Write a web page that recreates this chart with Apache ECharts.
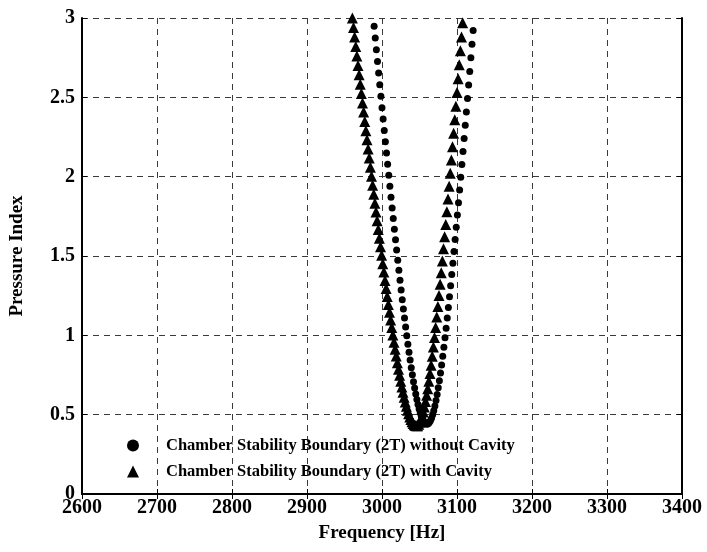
<!DOCTYPE html>
<html>
<head>
<meta charset="utf-8">
<script src="https://cdn.jsdelivr.net/npm/echarts@6/dist/echarts.min.js"></script>
<style>
  html, body { margin: 0; padding: 0; background: #fff; }
  #chart { width: 707px; height: 552px; }
</style>
</head>
<body>
<div id="chart"></div>
<script>
const xTicks = [2600, 2700, 2800, 2900, 3000, 3100, 3200, 3300, 3400];
const yTicks = [0, 0.5, 1, 1.5, 2, 2.5, 3];

// without cavity (circles), left arm top -> bottom
const noCavLeftFreq = [
  2989.5, 2991, 2992.5, 2994, 2995.5, 2997, 2998.5, 3000, 3001.5, 3003, 3004.5,
  3006, 3007.5, 3009, 3010.5, 3012, 3013.5, 3015, 3016.5, 3018, 3019.5, 3021,
  3022.5, 3024, 3025.5, 3027, 3028.5, 3030, 3031.5, 3033, 3034.5, 3036, 3037.5,
  3039, 3040.5, 3042, 3043.5, 3045, 3046.5, 3048, 3049.5, 3051, 3052.5, 3054,
  3055.5, 3057, 3058.5,
];
const noCavLeftPress = [
  2.948, 2.874, 2.8, 2.726, 2.653, 2.58, 2.507, 2.435, 2.363, 2.291, 2.22,
  2.149, 2.079, 2.009, 1.94, 1.871, 1.803, 1.736, 1.669, 1.603, 1.538, 1.473,
  1.41, 1.347, 1.286, 1.225, 1.166, 1.109, 1.052, 0.997, 0.944, 0.893, 0.844,
  0.796, 0.751, 0.708, 0.668, 0.631, 0.596, 0.564, 0.536, 0.511, 0.49, 0.472,
  0.458, 0.448, 0.442,
];
// without cavity (circles), right arm bottom -> top
const noCavRightFreq = [
  3060, 3061.5, 3063, 3064.5, 3066, 3067.5, 3069, 3070.5, 3072, 3073.5, 3075,
  3076.5, 3078, 3079.5, 3081, 3082.5, 3084, 3085.5, 3087, 3088.5, 3090, 3091.5,
  3093, 3094.5, 3096, 3097.5, 3099, 3100.5, 3102, 3103.5, 3105, 3106.5, 3108,
  3109.5, 3111, 3112.5, 3114, 3115.5, 3117, 3118.5, 3120, 3121.5,
];
const noCavRightPress = [
  0.44, 0.442, 0.45, 0.462, 0.478, 0.5, 0.525, 0.555, 0.589, 0.627, 0.669,
  0.714, 0.762, 0.813, 0.868, 0.925, 0.984, 1.045, 1.109, 1.175, 1.243, 1.312,
  1.383, 1.455, 1.529, 1.604, 1.681, 1.758, 1.836, 1.916, 1.996, 2.077, 2.159,
  2.241, 2.324, 2.408, 2.493, 2.578, 2.663, 2.749, 2.835, 2.922,
];

// with cavity (triangles), left arm top -> bottom
const cavLeftFreq = [
  2960.5, 2962, 2963.5, 2965, 2966.5, 2968, 2969.5, 2971, 2972.5, 2974, 2975.5,
  2977, 2978.5, 2980, 2981.5, 2983, 2984.5, 2986, 2987.5, 2989, 2990.5, 2992,
  2993.5, 2995, 2996.5, 2998, 2999.5, 3001, 3002.5, 3004, 3005.5, 3007, 3008.5,
  3010, 3011.5, 3013, 3014.5, 3016, 3017.5, 3019, 3020.5, 3022, 3023.5, 3025,
  3026.5, 3028, 3029.5, 3031, 3032.5, 3034, 3035.5, 3037, 3038.5, 3040, 3041.5,
  3043, 3044.5,
];
const cavLeftPress = [
  3.0, 2.94, 2.88, 2.82, 2.761, 2.701, 2.642, 2.583, 2.524, 2.465, 2.407,
  2.348, 2.29, 2.232, 2.174, 2.117, 2.059, 2.002, 1.946, 1.889, 1.833, 1.777,
  1.722, 1.667, 1.612, 1.558, 1.504, 1.451, 1.399, 1.346, 1.295, 1.244, 1.194,
  1.145, 1.096, 1.049, 1.002, 0.957, 0.912, 0.869, 0.827, 0.787, 0.748, 0.711,
  0.675, 0.641, 0.61, 0.58, 0.553, 0.528, 0.506, 0.486, 0.469, 0.455, 0.444,
  0.436, 0.432,
];
// with cavity (triangles), right arm bottom -> top
const cavRightFreq = [
  3046, 3047.5, 3049, 3050.5, 3052, 3053.5, 3055, 3056.5, 3058, 3059.5, 3061,
  3062.5, 3064, 3065.5, 3067, 3068.5, 3070, 3071.5, 3073, 3074.5, 3076, 3077.5,
  3079, 3080.5, 3082, 3083.5, 3085, 3086.5, 3088, 3089.5, 3091, 3092.5, 3094,
  3095.5, 3097, 3098.5, 3100, 3101.5, 3103, 3104.5, 3106, 3107.5,
];
const cavRightPress = [
  0.43, 0.43, 0.44, 0.452, 0.469, 0.491, 0.517, 0.548, 0.583, 0.622, 0.664,
  0.71, 0.76, 0.812, 0.868, 0.926, 0.986, 1.05, 1.115, 1.182, 1.251, 1.322,
  1.395, 1.469, 1.545, 1.621, 1.699, 1.779, 1.859, 1.94, 2.022, 2.105, 2.189,
  2.273, 2.358, 2.444, 2.53, 2.617, 2.705, 2.793, 2.881, 2.97,
];

const legendNames = [
  "Chamber Stability Boundary (2T) without Cavity",
  "Chamber Stability Boundary (2T) with Cavity",
];

const serif = "'Liberation Serif', 'DejaVu Serif', serif";
const pairs = (fs, ps) => fs.map((f, i) => [f, ps[i]]);
const noCavityData = pairs(noCavLeftFreq, noCavLeftPress).concat(
  pairs(noCavRightFreq, noCavRightPress)
);
const cavityData = pairs(cavLeftFreq, cavLeftPress).concat(
  pairs(cavRightFreq, cavRightPress)
);

const chartElement = document.getElementById("chart");
const chartInstance = echarts.init(chartElement);

const gridLine = {
  show: true,
  lineStyle: { color: "#3a3a3a", width: 1, type: [6, 5] },
};
const boxAxis = (extra) => ({
  min: extra.min,
  max: extra.max,
  interval: extra.interval,
  position: extra.position,
  axisLine: { show: true, lineStyle: { color: "#000", width: 2 } },
  axisTick: { show: true, inside: true, length: 5, lineStyle: { color: "#000", width: 1 } },
  axisLabel: { show: false },
  splitLine: { show: false },
});
const tickText = { fontFamily: serif, fontWeight: "bold", fontSize: 20, color: "#000" };
const nameText = { fontFamily: serif, fontWeight: "bold", fontSize: 19, color: "#000" };

const option = {
  animation: false,
  grid: { left: 80, right: 25, top: 18, bottom: 58 },
  legend: {
    orient: "vertical",
    left: 122,
    top: 432,
    itemGap: 9,
    itemWidth: 12,
    itemHeight: 12,
    textStyle: {
      fontFamily: serif,
      fontWeight: "bold",
      fontSize: 16.5,
      color: "#000",
      padding: [0, 0, 0, 22],
    },
    data: [
      { name: legendNames[0], icon: "circle", itemStyle: { color: "#000" } },
      { name: legendNames[1], icon: "triangle", itemStyle: { color: "#000" } },
    ],
  },
  xAxis: [
    {
      type: "value",
      min: 2600,
      max: 3400,
      interval: 100,
      name: "Frequency [Hz]",
      nameLocation: "middle",
      nameGap: 30,
      nameTextStyle: nameText,
      axisLine: { show: true, lineStyle: { color: "#000", width: 2 } },
      axisTick: { show: true, inside: true, length: 5, lineStyle: { color: "#000" } },
      axisLabel: Object.assign({}, tickText, {
        margin: 4,
        formatter: (v) => (xTicks.includes(v) ? String(v) : ""),
      }),
      splitLine: gridLine,
    },
    boxAxis({ min: 2600, max: 3400, interval: 100, position: "top" }),
  ],
  yAxis: [
    {
      type: "value",
      min: 0,
      max: 3,
      interval: 0.5,
      name: "Pressure Index",
      nameLocation: "middle",
      nameGap: 55,
      nameTextStyle: nameText,
      axisLine: { show: true, lineStyle: { color: "#000", width: 2 } },
      axisTick: { show: true, inside: true, length: 5, lineStyle: { color: "#000" } },
      axisLabel: Object.assign({}, tickText, {
        margin: 7,
        formatter: (v) => (yTicks.includes(v) ? String(v) : ""),
      }),
      splitLine: gridLine,
    },
    boxAxis({ min: 0, max: 3, interval: 0.5, position: "right" }),
  ],
  series: [
    {
      name: legendNames[0],
      type: "scatter",
      symbol: "circle",
      symbolSize: 7,
      itemStyle: { color: "#000", opacity: 1 },
      data: noCavityData,
    },
    {
      name: legendNames[1],
      type: "scatter",
      symbol: "triangle",
      symbolSize: 11,
      itemStyle: { color: "#000", opacity: 1 },
      data: cavityData,
    },
  ],
};

chartInstance.setOption(option);
</script>
</body>
</html>
